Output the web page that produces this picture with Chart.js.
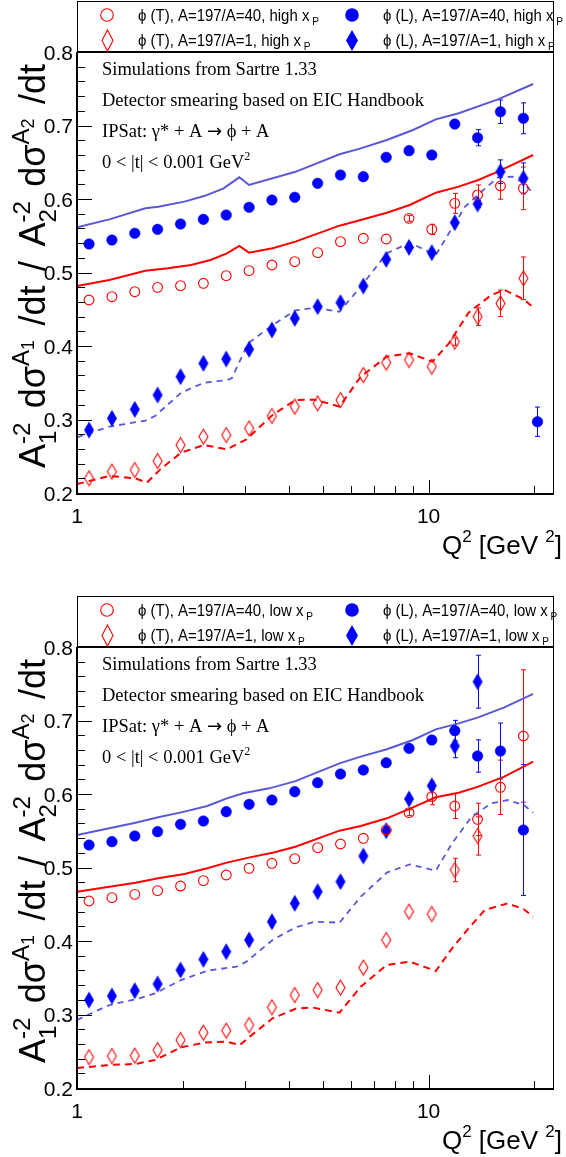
<!DOCTYPE html>
<html><head><meta charset="utf-8">
<script src="https://cdn.jsdelivr.net/npm/chart.js@4.4.0/dist/chart.umd.min.js"></script>
<style>body{margin:0;background:#fff;}canvas{display:block;}</style>
</head><body>
<canvas id="c1" width="566" height="595"></canvas>
<canvas id="c2" width="566" height="562"></canvas>
<script>
// ---------------- DATA ----------------
const binQ2 = [1.082,1.257,1.460,1.695,1.970,2.288,2.657,3.086,3.584,4.162,4.835,5.615,6.521,7.575,8.797,10.21,11.87,13.78,16.01,18.60];
const extraQ2 = [20.4];

// high x_P panel
const hiT40 = [0.4626,0.4671,0.4739,0.4798,0.4821,0.4853,0.4957,0.5025,0.5102,0.5147,0.5270,0.5420,0.5465,0.5456,0.5737,0.5587,0.5941,0.6055,0.6177,0.6145];
const hiT40Err = [0,0,0,0,0,0,0,0,0,0,0,0,0,0,0.004,0.007,0.0136,0.0136,0.018,0.029];
const hiL40 = [0.5388,0.5442,0.5533,0.5587,0.5660,0.5723,0.5782,0.5887,0.5986,0.6023,0.6213,0.6327,0.6304,0.6567,0.6658,0.6599,0.7020,0.6834,0.7188,0.7098,0.2970];
const hiL40Err = [0,0,0,0,0,0,0,0,0,0,0,0,0,0,0,0,0.004,0.011,0.016,0.021,0.020];
const hiT1 = [0.2200,0.2290,0.2313,0.2436,0.2653,0.2767,0.2789,0.2880,0.3048,0.3175,0.3220,0.3265,0.3605,0.3773,0.3810,0.3719,0.4059,0.4399,0.4580,0.4921];
const hiT1Err = [0,0,0,0,0,0,0,0,0,0,0,0,0,0,0,0,0.005,0.012,0.018,0.029];
const hiL1 = [0.2857,0.3016,0.3138,0.3333,0.3583,0.3764,0.3823,0.3955,0.4218,0.4376,0.4535,0.4590,0.4816,0.5179,0.5342,0.5270,0.5678,0.5932,0.6372,0.6281];
const hiL1Err = [0,0,0,0,0,0,0,0,0,0,0,0,0,0,0,0,0,0.005,0.016,0.021];

const hiL40CurveQ2 = [1.0,1.236,1.564,1.702,2.021,2.298,2.612,2.894,3.086,4.181,5.579,6.412,7.606,9.025,10.48,12.18,15.74,19.83];
const hiL40Curve   = [0.5615,0.5723,0.5873,0.5896,0.5964,0.6040,0.6145,0.6295,0.6191,0.6370,0.6608,0.6689,0.6803,0.6939,0.7084,0.7166,0.7356,0.7565];
const hiT40CurveQ2 = [1.0,1.236,1.564,1.816,2.109,2.397,2.668,2.894,3.086,3.600,4.181,5.579,6.412,7.606,8.837,10.48,12.18,13.84,15.74,19.83];
const hiT40Curve   = [0.4816,0.4898,0.5025,0.5057,0.5102,0.5170,0.5261,0.5361,0.5270,0.5329,0.5420,0.5637,0.5714,0.5814,0.5918,0.6086,0.6168,0.6259,0.6372,0.6599];
const hiL1CurveQ2 = [1.0,1.236,1.564,1.667,1.978,2.298,2.668,2.755,3.066,3.600,4.181,4.753,5.579,6.412,7.606,8.837,10.48,11.42,12.70,14.14,15.74,17.33,18.66,19.83];
const hiL1Curve   = [0.2757,0.2903,0.2984,0.3048,0.3365,0.3501,0.3537,0.3560,0.4036,0.4286,0.4485,0.4520,0.4467,0.4807,0.5261,0.5406,0.5238,0.5533,0.5896,0.6100,0.6295,0.6304,0.6213,0.6077];
const hiT1CurveQ2 = [1.0,1.236,1.467,1.580,1.739,1.978,2.298,2.668,3.033,3.600,4.181,4.753,5.579,6.412,7.606,8.837,10.26,11.42,12.99,15.08,16.42,18.66,19.83];
const hiT1Curve   = [0.2122,0.2231,0.2200,0.2141,0.2336,0.2549,0.2653,0.2594,0.2730,0.3061,0.3265,0.3270,0.3175,0.3583,0.3855,0.3900,0.3787,0.4036,0.4454,0.4694,0.4762,0.4635,0.4526];

// low x_P panel
const loT40 = [0.4544,0.4590,0.4635,0.4685,0.4748,0.4821,0.4898,0.4989,0.5057,0.5120,0.5270,0.5320,0.5397,0.5510,0.5746,0.5964,0.5837,0.5655,0.6091,0.6789];
const loT40Err = [0,0,0,0,0,0,0,0,0,0,0,0,0,0,0.004,0.011,0.017,0.022,0.037,0.090];
const loL40 = [0.5306,0.5352,0.5429,0.5488,0.5587,0.5633,0.5760,0.5859,0.5918,0.6032,0.6154,0.6272,0.6327,0.6426,0.6621,0.6735,0.6862,0.6517,0.6585,0.5510];
const loL40Err = [0,0,0,0,0,0,0,0,0,0,0,0,0,0,0,0.005,0.014,0.022,0.038,0.089];
const loT1 = [0.2420,0.2435,0.2440,0.2517,0.2653,0.2753,0.2780,0.2857,0.3098,0.3265,0.3333,0.3365,0.3637,0.4014,0.4399,0.4367,0.4966,0.5429];
const loT1Err = [0,0,0,0,0,0,0,0,0,0,0,0,0,0,0,0,0.016,0.026];
const loL1 = [0.3197,0.3252,0.3324,0.3415,0.3605,0.3750,0.3855,0.4014,0.4263,0.4513,0.4671,0.4807,0.5156,0.5501,0.5932,0.6113,0.6653,0.7528];
const loL1Err = [0,0,0,0,0,0,0,0,0,0,0,0,0,0,0,0.005,0.016,0.036];

const loL40CurveQ2 = [1.0,1.236,1.467,1.702,2.021,2.347,2.668,2.970,3.522,4.181,5.579,6.412,7.606,9.025,10.48,12.18,13.84,16.42,19.83];
const loL40Curve   = [0.5442,0.5533,0.5610,0.5683,0.5760,0.5837,0.5941,0.6009,0.6077,0.6175,0.6417,0.6508,0.6608,0.6735,0.6880,0.6961,0.7043,0.7179,0.7361];
const loT40CurveQ2 = [1.0,1.236,1.467,1.702,2.021,2.347,2.668,3.099,3.600,4.181,5.579,6.412,7.606,9.025,10.48,12.18,13.84,16.42,19.83];
const loT40Curve   = [0.4671,0.4739,0.4794,0.4853,0.4912,0.4989,0.5066,0.5138,0.5202,0.5283,0.5501,0.5565,0.5669,0.5819,0.5955,0.6018,0.6100,0.6236,0.6440];
const loL1CurveQ2 = [1.0,1.236,1.467,1.667,1.978,2.347,2.844,3.033,3.600,4.181,4.753,5.579,6.412,7.606,8.837,10.48,11.66,13.26,15.08,16.78,18.66,19.83];
const loL1Curve   = [0.2927,0.3129,0.3206,0.3288,0.3469,0.3596,0.3651,0.3719,0.4014,0.4185,0.4263,0.4249,0.4603,0.4930,0.5043,0.4957,0.5329,0.5692,0.5873,0.5918,0.5850,0.5746];
const loT1CurveQ2 = [1.0,1.236,1.467,1.667,1.978,2.298,2.668,2.905,3.099,3.600,4.181,4.653,5.579,6.412,7.606,8.837,10.48,11.66,12.99,14.44,16.78,18.66,19.83];
const loT1Curve   = [0.2272,0.2313,0.2327,0.2381,0.2553,0.2617,0.2630,0.2585,0.2699,0.2948,0.3077,0.3097,0.3025,0.3379,0.3674,0.3719,0.3592,0.3900,0.4172,0.4422,0.4512,0.4431,0.4331];

// axes ticks
const xMajorTicks = [1, 10];
const xMinorTicks = [2,3,4,5,6,7,8,9,20];
const yMajorTicks = [0.2,0.3,0.4,0.5,0.6,0.7,0.8];
const yMinorTicks = [0.22,0.24,0.26,0.28,0.32,0.34,0.36,0.38,0.42,0.44,0.46,0.48,0.52,0.54,0.56,0.58,0.62,0.64,0.66,0.68,0.72,0.74,0.76,0.78];

// ---------------- STYLE ----------------
const RED = '#ff0000', BLUE = '#0000ff', LBLUE = '#5858d8';
const FS = '"Liberation Sans", Arial, Helvetica, sans-serif';
const FT = '"Liberation Serif", "Times New Roman", serif';
const FA = '"DejaVu Sans", sans-serif';

function diamond(w, h, fill, stroke, lw) {
  const c = document.createElement('canvas');
  c.width = w + 4; c.height = h + 4;
  const g = c.getContext('2d');
  g.beginPath();
  g.moveTo(c.width/2, 2); g.lineTo(c.width-2, c.height/2);
  g.lineTo(c.width/2, c.height-2); g.lineTo(2, c.height/2); g.closePath();
  if (fill) { g.fillStyle = fill; g.fill(); }
  if (stroke) { g.strokeStyle = stroke; g.lineWidth = lw; g.stroke(); }
  return c;
}
const openDiamond = diamond(9, 15, null, RED, 1.1);
const fullDiamond = diamond(10, 17, BLUE, null, 0);

function pts(xs, ys) { return ys.map((v, i) => ({x: xs[i], y: v})); }

function pointSet(xs, ys, errs, kind) {
  const base = {data: pts(xs, ys), showLine: false, errs: errs, order: 1};
  if (kind === 'ocirc') return Object.assign(base, {pointStyle:'circle', pointRadius:4.9, borderColor:RED, backgroundColor:'rgba(0,0,0,0)', borderWidth:1.1, errColor:RED});
  if (kind === 'fcirc') return Object.assign(base, {pointStyle:'circle', pointRadius:5.3, borderColor:BLUE, backgroundColor:BLUE, borderWidth:0.5, errColor:BLUE});
  if (kind === 'odia') return Object.assign(base, {pointStyle:openDiamond, errColor:RED});
  return Object.assign(base, {pointStyle:fullDiamond, errColor:BLUE});
}
function lineSet(xs, ys, color, dash, w) {
  return {data: pts(xs, ys), showLine: true, pointRadius: 0, borderColor: color, borderWidth: w, borderDash: dash, fill: false, tension: 0, order: 2};
}

function partW(ctx, p) {
  if (p.stack) { let m = 0; for (const q of p.stack) { ctx.font = q.s + 'px ' + (q.f || FS); m = Math.max(m, ctx.measureText(q.t).width); } return m; }
  ctx.font = p.s + 'px ' + (p.f || FS); return ctx.measureText(p.t).width;
}
function partsWidth(ctx, parts, gap) {
  let w = 0;
  for (const p of parts) { w += partW(ctx, p); if (!p.ng) w += (gap || 0); }
  return w;
}
function countGaps(parts) { return parts.filter(p => !p.ng).length; }
function drawParts(ctx, parts, x, y, gap) {
  let cx = x;
  ctx.textBaseline = 'alphabetic'; ctx.textAlign = 'left';
  for (const p of parts) {
    if (p.stack) {
      for (const q of p.stack) { ctx.font = q.s + 'px ' + (q.f || FS); ctx.fillText(q.t, cx, y + (q.dy || 0)); }
    } else {
      ctx.font = p.s + 'px ' + (p.f || FS);
      ctx.fillText(p.t, cx, y + (p.dy || 0));
    }
    cx += partW(ctx, p);
    if (!p.ng) cx += (gap || 0);
  }
}

function yTitleParts(M) {
  const s = Math.round(M * 0.66), ss = Math.round(M * 0.5);
  return [
    {t:'A', s:M, ng:true},
    {stack:[{t:'-2', s:s, dy:-M*0.42},{t:'1', s:s, dy:M*0.3}]},
    {t:'d\u03c3', s:M, ng:true},
    {t:'A', s:s, dy:-M*0.45, ng:true},
    {t:'1', s:ss, dy:-M*0.3},
    {t:'/dt', s:M},
    {t:'/', s:M},
    {t:'A', s:M, ng:true},
    {stack:[{t:'-2', s:s, dy:-M*0.42},{t:'2', s:s, dy:M*0.3}]},
    {t:'d\u03c3', s:M, ng:true},
    {t:'A', s:s, dy:-M*0.45, ng:true},
    {t:'2', s:ss, dy:-M*0.3},
    {t:'/dt', s:M, ng:true}
  ];
}

function infoParts(i) {
  if (i === 0) return [{t:'Simulations from Sartre 1.33', s:18.5, f:FT}];
  if (i === 1) return [{t:'Detector smearing based on EIC Handbook', s:18.5, f:FT}];
  if (i === 2) return [{t:'IPSat: \u03b3* + A ', s:18.5, f:FT}, {t:'\u2192', s:18, f:FA}, {t:' \u03d5 + A', s:18.5, f:FT}];
  return [{t:'0 < |t| < 0.001 GeV', s:18.5, f:FT}, {t:'2', s:12, dy:-8, f:FT}];
}

const rootPlugin = {
  id: 'rootStyle',
  beforeDatasetsDraw(chart) {
    const ctx = chart.ctx, xs = chart.scales.x, ys = chart.scales.y;
    ctx.save();
    chart.data.datasets.forEach(ds => {
      if (!ds.errs) return;
      ctx.strokeStyle = ds.errColor; ctx.lineWidth = 1;
      ds.data.forEach((p, i) => {
        const e = ds.errs[i]; if (!e) return;
        const px = Math.round(xs.getPixelForValue(p.x)) + 0.5;
        const y1 = ys.getPixelForValue(p.y + e), y2 = ys.getPixelForValue(p.y - e);
        ctx.beginPath();
        ctx.moveTo(px, y1); ctx.lineTo(px, y2);
        ctx.moveTo(px - 2.5, y1); ctx.lineTo(px + 2.5, y1);
        ctx.moveTo(px - 2.5, y2); ctx.lineTo(px + 2.5, y2);
        ctx.stroke();
      });
    });
    ctx.restore();
  },
  afterDraw(chart) {
    const ctx = chart.ctx, xs = chart.scales.x, ys = chart.scales.y, a = chart.chartArea;
    const o = chart.options.plugins.rootStyle;
    ctx.save();
    ctx.strokeStyle = '#000'; ctx.fillStyle = '#000';
    // ticks
    ctx.lineWidth = 1; ctx.beginPath();
    yMajorTicks.forEach(v => { const y = Math.round(ys.getPixelForValue(v)) + 0.5; ctx.moveTo(a.left, y); ctx.lineTo(a.left + 15, y); });
    yMinorTicks.forEach(v => { const y = Math.round(ys.getPixelForValue(v)) + 0.5; ctx.moveTo(a.left, y); ctx.lineTo(a.left + 8, y); });
    xMajorTicks.forEach(v => { const x = Math.round(xs.getPixelForValue(v)) + 0.5; ctx.moveTo(x, a.bottom); ctx.lineTo(x, a.bottom - 13); });
    xMinorTicks.forEach(v => { const x = Math.round(xs.getPixelForValue(v)) + 0.5; ctx.moveTo(x, a.bottom); ctx.lineTo(x, a.bottom - 7); });
    ctx.stroke();
    // frame
    ctx.lineWidth = 1; ctx.beginPath();
    ctx.moveTo(a.right - 0.5, a.top); ctx.lineTo(a.right - 0.5, a.bottom); ctx.stroke();
    ctx.lineWidth = 2; ctx.beginPath();
    ctx.moveTo(a.left, a.top); ctx.lineTo(a.left, a.bottom + 1); ctx.lineTo(a.right, a.bottom + 1); ctx.stroke();
    // legend box
    ctx.fillStyle = '#fff';
    ctx.fillRect(a.left, 1, a.right - a.left, a.top - 1);
    ctx.fillStyle = '#000';
    ctx.lineWidth = 1;
    ctx.strokeRect(a.left + 0.5, 1.5, a.right - a.left - 1, a.top - 1.5);
    ctx.lineWidth = 2; ctx.beginPath(); ctx.moveTo(a.left, a.top); ctx.lineTo(a.right, a.top); ctx.stroke();
    // legend entries
    const rows = [15, 40], cols = [107, 352];
    o.legend.forEach((e, i) => {
      const cx = cols[i % 2], cy = rows[Math.floor(i / 2)];
      if (e.k === 'ocirc') { ctx.strokeStyle = RED; ctx.lineWidth = 1.1; ctx.beginPath(); ctx.arc(cx, cy, 6.3, 0, 2*Math.PI); ctx.stroke(); }
      else if (e.k === 'fcirc') { ctx.fillStyle = BLUE; ctx.beginPath(); ctx.arc(cx, cy, 6.8, 0, 2*Math.PI); ctx.fill(); }
      else if (e.k === 'odia') { const d = diamond(11, 21, null, RED, 1.1); ctx.drawImage(d, Math.round(cx - d.width/2), Math.round(cy - d.height/2)); }
      else { const d = diamond(12, 21, BLUE, null, 0); ctx.drawImage(d, Math.round(cx - d.width/2), Math.round(cy - d.height/2)); }
      ctx.fillStyle = '#000';
      ctx.save(); ctx.translate(cx + 31, cy + 6); ctx.scale(0.88, 1);
      drawParts(ctx, [{t:e.t, s:17}, {t:' P', s:11.5, dy:4}], 0, 0);
      ctx.restore();
    });
    // info texts
    ctx.fillStyle = '#000';
    const base = [75, 106, 137, 168];
    for (let i = 0; i < 4; i++) drawParts(ctx, infoParts(i), 102, base[i]);
    // x title
    const xp = [{t:'Q', s:26},{t:'2', s:17, dy:-12},{t:' [GeV ', s:26},{t:'2', s:17, dy:-12},{t:']', s:26}];
    const xw = partsWidth(ctx, xp);
    drawParts(ctx, xp, 562 - xw, a.bottom + 61);
    // y title (rotated)
    const M = 36;
    const yp = yTitleParts(M);
    const w0 = partsWidth(ctx, yp, 0);
    const gap = Math.max(0, (404 - w0) / countGaps(yp));
    ctx.save();
    ctx.translate(45, a.bottom - 25);
    ctx.rotate(-Math.PI / 2);
    drawParts(ctx, yp, 0, 0, gap);
    ctx.restore();
    ctx.restore();
  }
};

function makeChart(id, H, sets, legend) {
  return new Chart(document.getElementById(id), {
    type: 'scatter',
    data: {datasets: sets},
    options: {
      responsive: false, animation: false, events: [],
      layout: {padding: {top: 52, right: 2, left: 0, bottom: 0}},
      plugins: {legend: {display: false}, tooltip: {enabled: false}, rootStyle: {legend: legend}},
      scales: {
        x: {
          type: 'logarithmic', min: 1, max: 22.73, position: 'bottom',
          grid: {display: false, drawTicks: false}, border: {display: false},
          afterFit: s => { s.height = H - 493; },
          ticks: {autoSkip: false, maxRotation: 0, padding: 12, color: '#000',
            font: {family: FS, size: 21},
            callback: v => (Math.abs(v - 1) < 1e-9 ? '1' : (Math.abs(v - 10) < 1e-9 ? '10' : ''))}
        },
        y: {
          type: 'linear', min: 0.2, max: 0.8, position: 'left',
          grid: {display: false, drawTicks: false}, border: {display: false},
          afterFit: s => { s.width = 77; },
          ticks: {stepSize: 0.1, padding: 4, color: '#000', labelOffset: 2,
            font: {family: FS, size: 21},
            callback: v => v.toFixed(1)}
        }
      }
    },
    plugins: [rootPlugin]
  });
}

const hiSets = [
  pointSet(binQ2, hiT40, hiT40Err, 'ocirc'),
  pointSet(binQ2.concat(extraQ2), hiL40, hiL40Err, 'fcirc'),
  pointSet(binQ2, hiT1, hiT1Err, 'odia'),
  pointSet(binQ2, hiL1, hiL1Err, 'fdia'),
  lineSet(hiL40CurveQ2, hiL40Curve, LBLUE, [], 2),
  lineSet(hiT40CurveQ2, hiT40Curve, RED, [], 2),
  lineSet(hiL1CurveQ2, hiL1Curve, LBLUE, [6, 5], 1.8),
  lineSet(hiT1CurveQ2, hiT1Curve, RED, [7, 5], 2)
];
const loSets = [
  pointSet(binQ2, loT40, loT40Err, 'ocirc'),
  pointSet(binQ2, loL40, loL40Err, 'fcirc'),
  pointSet(binQ2.slice(0, 18), loT1, loT1Err, 'odia'),
  pointSet(binQ2.slice(0, 18), loL1, loL1Err, 'fdia'),
  lineSet(loL40CurveQ2, loL40Curve, LBLUE, [], 2),
  lineSet(loT40CurveQ2, loT40Curve, RED, [], 2),
  lineSet(loL1CurveQ2, loL1Curve, LBLUE, [6, 5], 1.8),
  lineSet(loT1CurveQ2, loT1Curve, RED, [7, 5], 2)
];
makeChart('c1', 595, hiSets, [
  {k:'ocirc', t:'\u03d5 (T), A=197/A=40, high x'},
  {k:'fcirc', t:'\u03d5 (L), A=197/A=40, high x'},
  {k:'odia', t:'\u03d5 (T), A=197/A=1, high x'},
  {k:'fdia', t:'\u03d5 (L), A=197/A=1, high x'}
]);
makeChart('c2', 562, loSets, [
  {k:'ocirc', t:'\u03d5 (T), A=197/A=40, low x'},
  {k:'fcirc', t:'\u03d5 (L), A=197/A=40, low x'},
  {k:'odia', t:'\u03d5 (T), A=197/A=1, low x'},
  {k:'fdia', t:'\u03d5 (L), A=197/A=1, low x'}
]);
</script>
</body></html>
